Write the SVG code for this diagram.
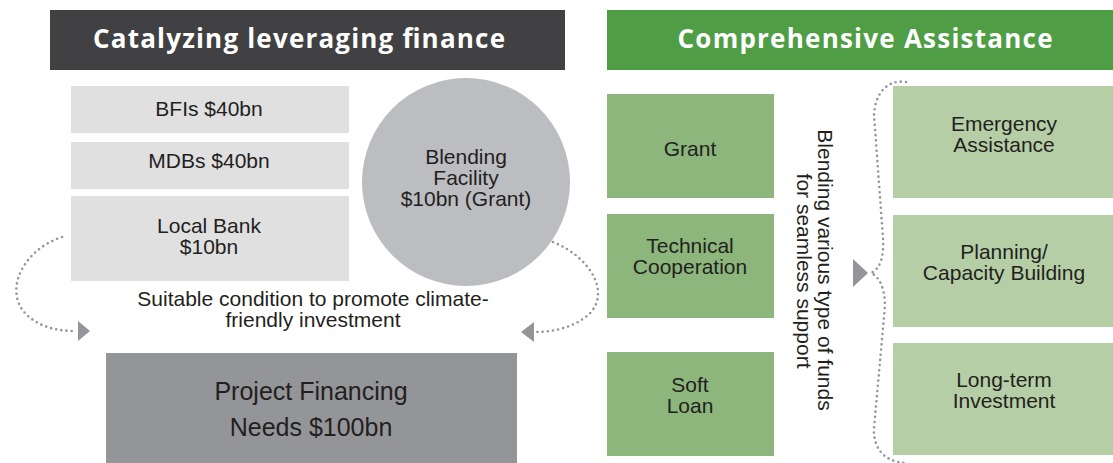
<svg xmlns="http://www.w3.org/2000/svg" width="1113" height="463" viewBox="0 0 1113 463">
  <style>
    .hdr { font-family: "Open Sans", "Liberation Sans", sans-serif; font-weight: bold; font-size: 26px; fill: #ffffff; text-anchor: middle; }
    .t { font-family: "Liberation Sans", Arial, sans-serif; font-size: 21px; fill: #231f20; text-anchor: middle; }
    .big { font-size: 25px; }
    .lg { fill: #e0e0e0; }
    .mg { fill: #8db67c; }
    .pg { fill: #b6cea6; }
    .dot { fill: none; stroke: #939598; stroke-width: 2.6; stroke-linecap: round; stroke-dasharray: 0 5.2; }
    .head { fill: #939598; }
  </style>
  <rect width="1113" height="463" fill="#ffffff"/>

  <g id="header-left">
    <rect x="50" y="10" width="515" height="60" fill="#414042"/>
    <text class="hdr" x="299" y="48" textLength="412" lengthAdjust="spacing">Catalyzing leveraging finance</text>
  </g>
  <g id="header-right">
    <rect x="607" y="10" width="506" height="60" fill="#4f9d45"/>
    <text class="hdr" x="865" y="48" textLength="375" lengthAdjust="spacing">Comprehensive Assistance</text>
  </g>

  <g id="bfis">
    <rect class="lg" x="71" y="86" width="278" height="47"/>
    <text class="t" x="209" y="116">BFIs $40bn</text>
  </g>
  <g id="mdbs">
    <rect class="lg" x="71" y="142" width="278" height="47"/>
    <text class="t" x="209" y="168">MDBs $40bn</text>
  </g>
  <g id="local-bank">
    <rect class="lg" x="71" y="196" width="278" height="85"/>
    <text class="t" x="209" y="233">Local Bank</text>
    <text class="t" x="209" y="254">$10bn</text>
  </g>
  <g id="blending-facility">
    <circle cx="466" cy="182" r="104" fill="#bcbdc0"/>
    <text class="t" x="466" y="164">Blending</text>
    <text class="t" x="466" y="185">Facility</text>
    <text class="t" x="466" y="206">$10bn (Grant)</text>
  </g>
  <g id="condition-label">
    <text class="t" x="313" y="306">Suitable condition to promote climate-</text>
    <text class="t" x="313" y="327">friendly investment</text>
  </g>
  <g id="project-financing">
    <rect x="106" y="353" width="411" height="110" fill="#939598"/>
    <text class="t big" x="311" y="400">Project Financing</text>
    <text class="t big" x="311" y="436">Needs $100bn</text>
  </g>

  <g id="grant">
    <rect class="mg" x="607" y="94" width="167" height="104"/>
    <text class="t" x="690" y="156">Grant</text>
  </g>
  <g id="technical-cooperation">
    <rect class="mg" x="607" y="214" width="167" height="104"/>
    <text class="t" x="690" y="253">Technical</text>
    <text class="t" x="690" y="274">Cooperation</text>
  </g>
  <g id="soft-loan">
    <rect class="mg" x="607" y="352" width="167" height="104"/>
    <text class="t" x="690" y="392">Soft</text>
    <text class="t" x="690" y="413">Loan</text>
  </g>

  <g id="blending-label">
    <text class="t" transform="translate(818,270) rotate(90)">Blending various type of funds</text>
    <text class="t" transform="translate(797,271) rotate(90)">for seamless support</text>
  </g>

  <g id="emergency-assistance">
    <rect class="pg" x="893" y="86" width="220" height="112"/>
    <text class="t" x="1004" y="131">Emergency</text>
    <text class="t" x="1004" y="152">Assistance</text>
  </g>
  <g id="planning-capacity">
    <rect class="pg" x="893" y="215" width="220" height="112"/>
    <text class="t" x="1004" y="259">Planning/</text>
    <text class="t" x="1004" y="280">Capacity Building</text>
  </g>
  <g id="long-term-investment">
    <rect class="pg" x="893" y="343" width="220" height="112"/>
    <text class="t" x="1004" y="387">Long-term</text>
    <text class="t" x="1004" y="408">Investment</text>
  </g>

  <g id="connectors">
    <path class="dot" d="M62,237 C22,250 2,293 28,316 C42,328 58,331 76,331"/>
    <polygon class="head" points="78,321 90,331 78,341"/>
    <path class="dot" d="M553,242 C592,258 612,295 587,316 C572,328 552,332 535,332"/>
    <polygon class="head" points="534,322 521,332 534,342"/>
    <path class="dot" d="M906,82 C886,79 875,95 874,115 L883,238 C884,258 880,269 871,273 C880,277 885,290 885,306 L874,428 C873,448 884,462 906,463"/>
    <polygon class="head" points="853,259 868,273 853,287"/>
  </g>
</svg>
